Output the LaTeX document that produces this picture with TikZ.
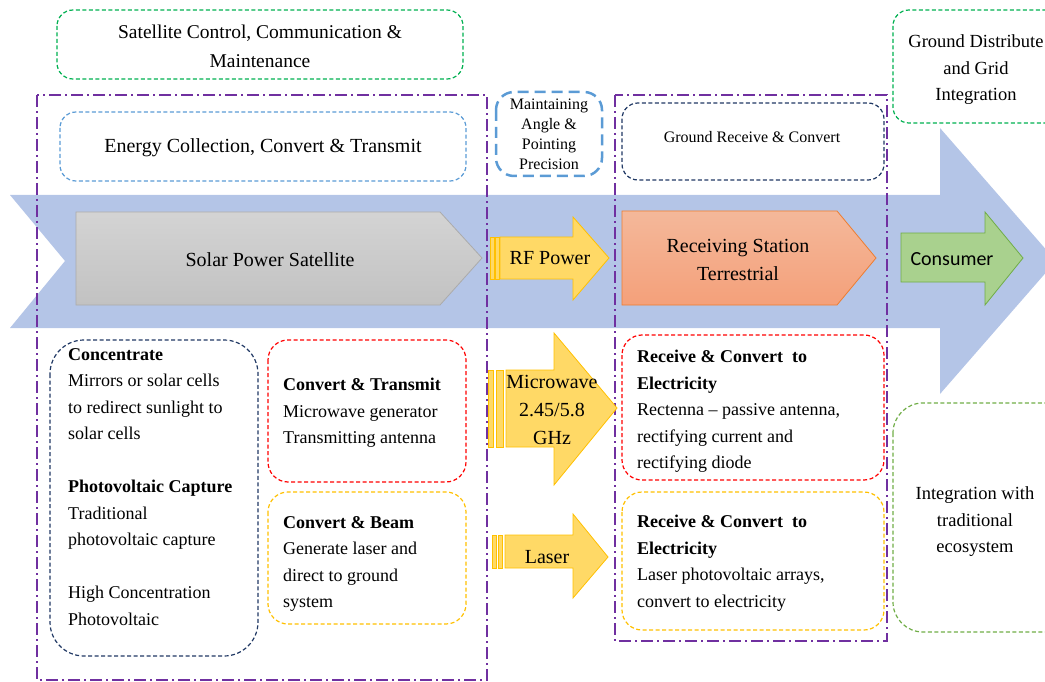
\documentclass[tikz,border=0pt]{standalone}
\usepackage{fontspec}
\setmainfont{Liberation Serif}
\newfontfamily\calfont{Carlito}
\usepackage{tikz}
\usetikzlibrary{positioning}

\definecolor{flowblue}{HTML}{B4C5E7}
\definecolor{stagepurple}{HTML}{7030A0}
\definecolor{ctrlgreen}{HTML}{00B050}
\definecolor{gridgreen}{HTML}{70AD47}
\definecolor{skyblue}{HTML}{5B9BD5}
\definecolor{navy}{HTML}{203864}
\definecolor{beamfill}{HTML}{FFD966}
\definecolor{beamedge}{HTML}{FFC000}
\definecolor{stationtop}{HTML}{F4B89A}
\definecolor{stationbot}{HTML}{F4A07A}
\definecolor{stationedge}{HTML}{ED7D31}
\definecolor{consfill}{HTML}{A9D18E}

\begin{document}
\begin{tikzpicture}[x=1pt,y=-1pt,
    stage/.style={draw=stagepurple,line width=1.3pt,dash pattern=on 12pt off 4pt on 2pt off 4pt},
    group/.style={rounded corners=16pt,line width=1.2pt,dash pattern=on 4pt off 2.5pt},
    label/.style={font=\fontsize{20}{28}\selectfont,align=center,inner sep=0pt},
    small/.style={font=\fontsize{16}{20}\selectfont,align=center,inner sep=0pt},
    body/.style={font=\fontsize{18}{26.5}\selectfont,align=left,anchor=north west,inner sep=0pt},
    beam/.style={fill=beamfill,draw=beamedge,line width=0.8pt}]
  \useasboundingbox (0,0) rectangle (1045,682);
  \begin{scope}
    \clip (0,0) rectangle (1045,682);
    \fill[flowblue] (10,195) -- (940,195) -- (940,128)
      -- (1056,261) -- (940,394) -- (940,328)
      -- (10,328) -- (65,261) -- cycle;
    \draw[group,draw=ctrlgreen] (893,10) rectangle (1070,123);
    \draw[group,draw=gridgreen,rounded corners=30pt] (893,403) rectangle (1075,632);
  \end{scope}
  \draw[stage] (37,95) rectangle (487,680);
  \draw[stage] (615,95) rectangle (887,641);
  \draw[group,draw=ctrlgreen] (57,10) rectangle (463,79);
  \draw[group,draw=skyblue] (60,112) rectangle (466,181);
  \draw[rounded corners=18pt,draw=skyblue,line width=2.5pt,dash pattern=on 11pt off 6pt]
    (496,92) rectangle (602,176);
  \draw[group,draw=navy] (622,103) rectangle (884,180);
  \draw[group,draw=navy,rounded corners=34pt] (50,340) rectangle (258,656);
  \draw[group,draw=red,rounded corners=20pt] (268,340) rectangle (466,482);
  \draw[group,draw=beamedge,rounded corners=20pt] (268,492) rectangle (466,624);
  \draw[group,draw=red,rounded corners=20pt] (622,335) rectangle (884,480);
  \draw[group,draw=beamedge,rounded corners=20pt] (622,492) rectangle (884,630);
  \shade[top color=black!17,bottom color=black!24,draw=black!33,line width=0.8pt]
    (76,212) -- (440,212) -- (482,258) -- (440,305) -- (76,305) -- cycle;
  \shade[top color=stationtop,bottom color=stationbot,draw=stationedge,line width=0.8pt]
    (622,211) -- (837,211) -- (876,258) -- (837,305) -- (622,305) -- cycle;
  \fill[consfill,draw=gridgreen,line width=0.8pt]
    (901,233) -- (985,233) -- (985,212) -- (1023,258) -- (985,305) -- (985,282) -- (901,282) -- cycle;
  \draw[beam] (490,237) rectangle (494,279);
  \draw[beam] (495,237) rectangle (499,279);
  \draw[beam] (500,237) -- (573,237) -- (573,217) -- (609,258)
    -- (573,300) -- (573,279) -- (500,279) -- cycle;
  \draw[beam] (488,370) rectangle (493,447);
  \draw[beam] (496,370) rectangle (503,447);
  \draw[beam] (506,370) -- (554,370) -- (554,333) -- (617,408)
    -- (554,485) -- (554,447) -- (506,447) -- cycle;
  \draw[beam] (492,535) rectangle (496,568);
  \draw[beam] (498,535) rectangle (502,568);
  \draw[beam] (505,535) -- (573,535) -- (573,514) -- (608,557)
    -- (573,598) -- (573,568) -- (505,568) -- cycle;
  \node[label,font=\fontsize{19.5}{29}\selectfont] (control) at (260,46)
    {Satellite Control, Communication \&\\Maintenance};
  \node[label] (collect) at (263,148) {Energy Collection, Convert \& Transmit};
  \node[small] (pointing) at (549,134) {Maintaining\\Angle \&\\Pointing\\Precision};
  \node[small] (groundrx) at (752,137) {Ground Receive \& Convert};
  \node[label,font=\fontsize{18.5}{26.5}\selectfont] (distribute) at (976,70)
    {Ground Distribute\\and Grid\\Integration};
  \node[label] (sps) at (270,260) {Solar Power Satellite};
  \node[label] (rf) at (550,258) {RF Power};
  \node[label] (station) at (738,260) {Receiving Station\\Terrestrial};
  \node[label,font=\calfont\fontsize{20}{24}\selectfont] (consumer) at (952,259) {Consumer};
  \node[label] (microwave) at (552,410) {Microwave\\2.45/5.8\\GHz};
  \node[label] (laser) at (547,557) {Laser};
  \node[label,font=\fontsize{18.5}{26.5}\selectfont] (ecosystem) at (975,522)
    {Integration with\\traditional\\ecosystem};
  \node[body] (capture) at (68,348)
    {\textbf{Concentrate}\\Mirrors or solar cells\\to redirect sunlight to\\solar cells\\[26.5pt]
     \textbf{Photovoltaic Capture}\\Traditional\\photovoltaic capture\\[26.5pt]
     High Concentration\\Photovoltaic};
  \node[body] (transmit) at (283,378)
    {\textbf{Convert \& Transmit}\\Microwave generator\\Transmitting antenna};
  \node[body] (beamout) at (283,516)
    {\textbf{Convert \& Beam}\\Generate laser and\\direct to ground\\system};
  \node[body] (rectenna) at (637,350)
    {\textbf{Receive \& Convert\ \ to}\\\textbf{Electricity}\\Rectenna -- passive antenna,\\rectifying current and\\rectifying diode};
  \node[body] (pvarray) at (637,515)
    {\textbf{Receive \& Convert\ \ to}\\\textbf{Electricity}\\Laser photovoltaic arrays,\\convert to electricity};
\end{tikzpicture}
\end{document}
